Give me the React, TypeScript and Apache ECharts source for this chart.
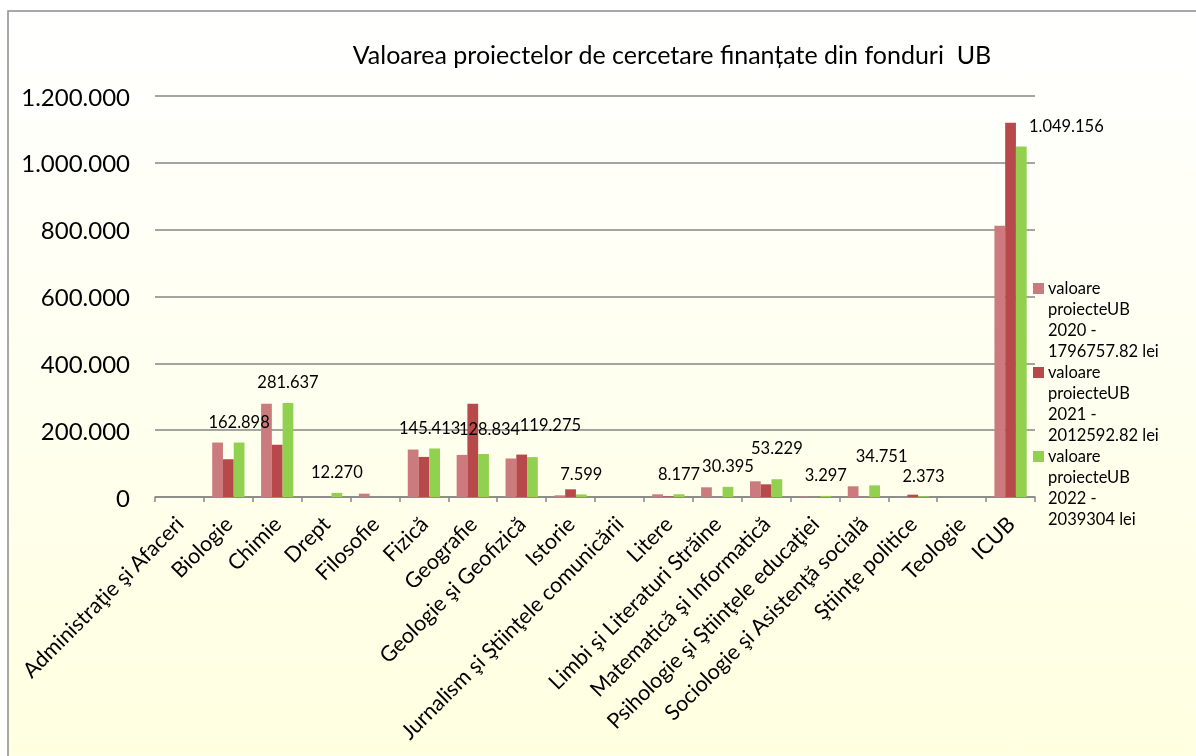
import React, { useEffect, useRef } from "react";
import * as echarts from "echarts";

const categories = [
  "Administraţie şi Afaceri",
  "Biologie",
  "Chimie",
  "Drept",
  "Filosofie",
  "Fizică",
  "Geografie",
  "Geologie şi Geofizică",
  "Istorie",
  "Jurnalism şi Ştiinţele comunicării",
  "Litere",
  "Limbi şi Literaturi Străine",
  "Matematică şi Informatică",
  "Psihologie şi Ştiinţele educaţiei",
  "Sociologie şi Asistenţă socială",
  "Ştiinţe politice",
  "Teologie",
  "ICUB",
];

const seriesNames = [
  "valoare proiecteUB 2020 - 1796757.82 lei",
  "valoare proiecteUB 2021 - 2012592.82 lei",
  "valoare proiecteUB 2022 - 2039304 lei",
];

const values2020 = [0, 163000, 279000, 0, 10000, 142000, 126000, 115000, 5000, 0, 8000, 29000, 47000, 2000, 32000, 0, 0, 812000];
const values2021 = [0, 113000, 156000, 0, 0, 120000, 279000, 127000, 23000, 0, 1500, 0, 38000, 0, 0, 7000, 0, 1120000];
const values2022 = [0, 162898, 281637, 12270, 0, 145413, 128834, 119275, 7599, 0, 8177, 30395, 53229, 3297, 34751, 2373, 0, 1049156];

// label nudges (styling, by category name), as in the reference
const labelNudges: Record<string, [number, number]> = {
  "Fizică": [-5, 0],
  Geografie: [6, -4],
  "Geologie şi Geofizică": [18, -12],
  "Matematică şi Informatică": [0, -11],
  "Sociologie şi Asistenţă socială": [7, -9],
  ICUB: [45, 0],
};

const colors = ["#CB7B7D", "#B7494A", "#92D050"];
const FONT = "Lato";

const fmt = (v: number) => String(Math.round(v)).replace(/\B(?=(\d{3})+(?!\d))/g, ".");

export default function App() {
  const ref = useRef<HTMLDivElement>(null);

  useEffect(() => {
    if (!ref.current) return;
    const chart = echarts.init(ref.current, null, { renderer: "svg" });

    const legendTexts = seriesNames.map((n) => {
      const m = n.match(/^(valoare) (proiecteUB) (\d+ -) (.*)$/);
      return m ? [m[1], m[2], m[3], m[4]].join("\n") : n;
    });

    const LH = 20.8;
    const legendGraphics: any[] = [];
    legendTexts.forEach((t, i) => {
      const y0 = 283 + i * 84;
      legendGraphics.push({
        type: "rect",
        shape: { x: 1033, y: y0, width: 11, height: 11 },
        style: { fill: colors[i] },
        z: 10,
      });
      legendGraphics.push({
        type: "text",
        x: 1048,
        y: y0 + 5.5 - LH / 2,
        style: {
          text: t,
          font: `16.5px ${FONT}`,
          fill: "#000",
          lineHeight: LH,
          verticalAlign: "top",
        },
        z: 10,
      });
    });

    const option: any = {
      animation: false,
      title: {
        text: "Valoarea proiectelor de cercetare finanțate din fonduri  UB",
        left: 672,
        top: 41,
        padding: 0,
        textAlign: "center",
        textStyle: { fontFamily: FONT, fontSize: 25, fontWeight: "normal", color: "#000" },
      },
      graphic: [
        {
          type: "rect",
          shape: { x: 8, y: 11, width: 1400, height: 1000 },
          style: {
            fill: new echarts.graphic.LinearGradient(0, 0, 0, 1, [
              { offset: 0, color: "#FFFFFF" },
              { offset: 1, color: "#FFFFD6" },
            ]),
            stroke: "#8C8C8C",
            lineWidth: 1.5,
          },
          z: -10,
          silent: true,
        },
        ...legendGraphics,
      ],
      grid: {
        left: 155,
        right: 161,
        top: 96,
        bottom: 259,
        containLabel: false,
        outerBoundsMode: "none",
      },
      xAxis: {
        type: "category",
        data: categories,
        axisLine: { lineStyle: { color: "#868686", width: 1.5 } },
        axisTick: { show: true, length: 5, lineStyle: { color: "#868686", width: 1.5 } },
        axisLabel: {
          interval: 0,
          rotate: 45,
          margin: 23,
          align: "right",
          verticalAlign: "middle",
          fontFamily: FONT,
          fontSize: 21.5,
          color: "#000",
        },
      },
      yAxis: {
        type: "value",
        min: 0,
        max: 1200000,
        interval: 200000,
        axisLine: { show: false },
        axisTick: { show: false },
        axisLabel: {
          margin: 25,
          fontFamily: FONT,
          fontSize: 24,
          color: "#000",
          formatter: (v: number) => fmt(v),
        },
        splitLine: { lineStyle: { color: "#868686", width: 1.5 } },
      },
      series: [
        {
          name: seriesNames[0],
          type: "bar",
          data: values2020,
          itemStyle: { color: colors[0] },
          barGap: "0%",
          barCategoryGap: "34%",
        },
        {
          name: seriesNames[1],
          type: "bar",
          data: values2021,
          itemStyle: { color: colors[1] },
          barGap: "0%",
          barCategoryGap: "34%",
        },
        {
          name: seriesNames[2],
          type: "bar",
          data: values2022.map((v, i) => {
            const nudge = labelNudges[categories[i]];
            return nudge
              ? { value: v, label: { show: v > 0, offset: nudge } }
              : { value: v, label: { show: v > 0 } };
          }),
          itemStyle: { color: colors[2] },
          barGap: "0%",
          barCategoryGap: "34%",
          label: {
            show: true,
            position: "top",
            distance: 12,
            fontFamily: FONT,
            fontSize: 16.5,
            color: "#000",
            formatter: (p: any) => fmt(p.value),
          },
        },
      ],
    };

    chart.setOption(option);
    return () => chart.dispose();
  }, []);

  return (
    <div
      ref={ref}
      style={{ position: "fixed", left: 0, top: 0, width: 1196, height: 756 }}
    />
  );
}
